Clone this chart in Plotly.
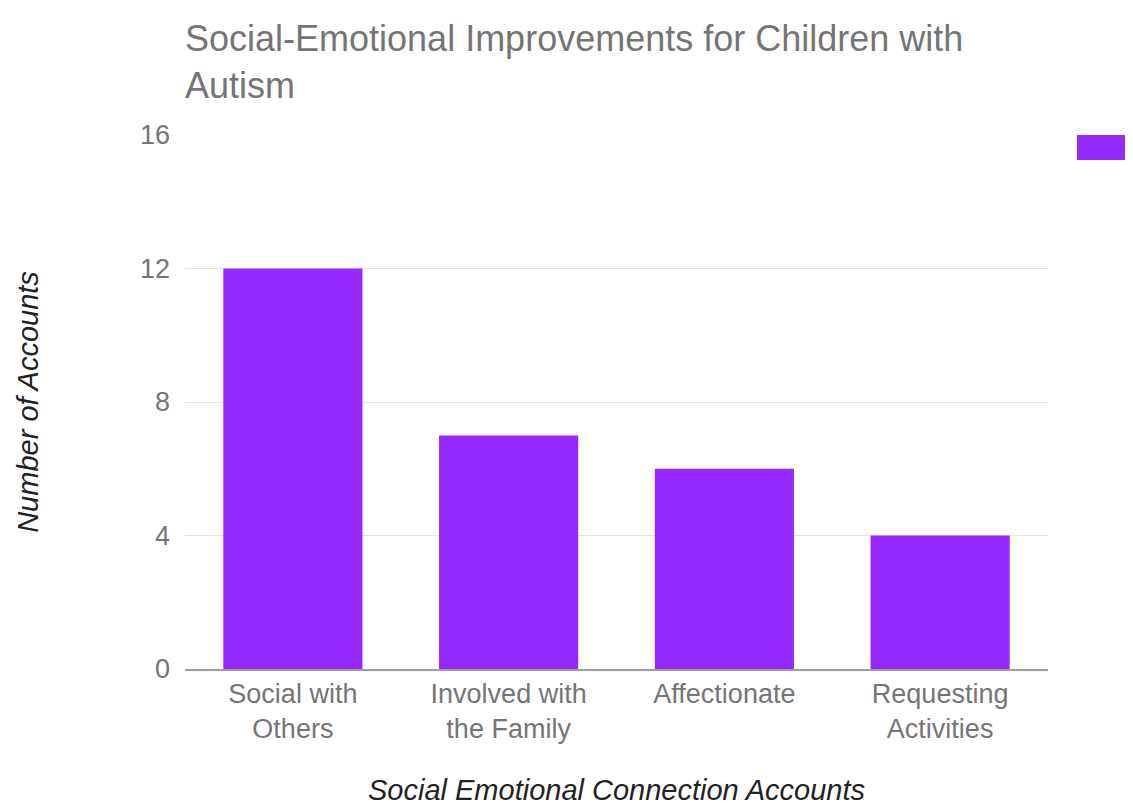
import plotly.graph_objects as go

categories = ["Social with<br>Others", "Involved with<br>the Family", "Affectionate", "Requesting<br>Activities"]
values = [12, 7, 6, 4]
y_ticks = [0, 4, 8, 12, 16]
y_tick_labels = ["0", "4", "8", "12", "16"]

BAR = "#9629FF"
GRAY = "#757575"

fig = go.Figure()
fig.add_trace(go.Bar(x=categories, y=values, marker=dict(color=BAR, line=dict(width=0)),
                     showlegend=False))

fig.update_layout(
    width=1133, height=805,
    paper_bgcolor="white", plot_bgcolor="white",
    margin=dict(l=177, r=93, t=127, b=144),
    bargap=0.355,
    font=dict(family="Liberation Sans, Arial, sans-serif", color=GRAY),
    title=dict(text="Social-Emotional Improvements for Children with<br>Autism",
               x=177/1133, xanchor="left", y=1 - 43/805, yanchor="top",
               font=dict(size=36, color=GRAY)),
    xaxis=dict(showgrid=False, showline=True, linecolor="#9e9e9e", linewidth=1.5,
               tickfont=dict(size=27, color=GRAY), ticks="",
               title=dict(text="Social Emotional Connection Accounts", standoff=36,
                          font=dict(size=29, color="#222222", style="italic"))),
    yaxis=dict(range=[0, 16], tickvals=y_ticks, ticktext=y_tick_labels,
               showgrid=True, gridcolor="#e3e3e3", gridwidth=1, zeroline=False,
               tickfont=dict(size=27, color=GRAY), ticks="", ticklabelstandoff=14,
               title=dict(text="Number of Accounts", standoff=92,
                          font=dict(size=29, color="#222222", style="italic"))),
    shapes=[dict(type="rect", xref="paper", yref="paper", x0=1.0336, x1=1.12,
                 y0=0.953, y1=1.0, fillcolor=BAR, line=dict(width=0))],
)

fig.write_html("out.html")
